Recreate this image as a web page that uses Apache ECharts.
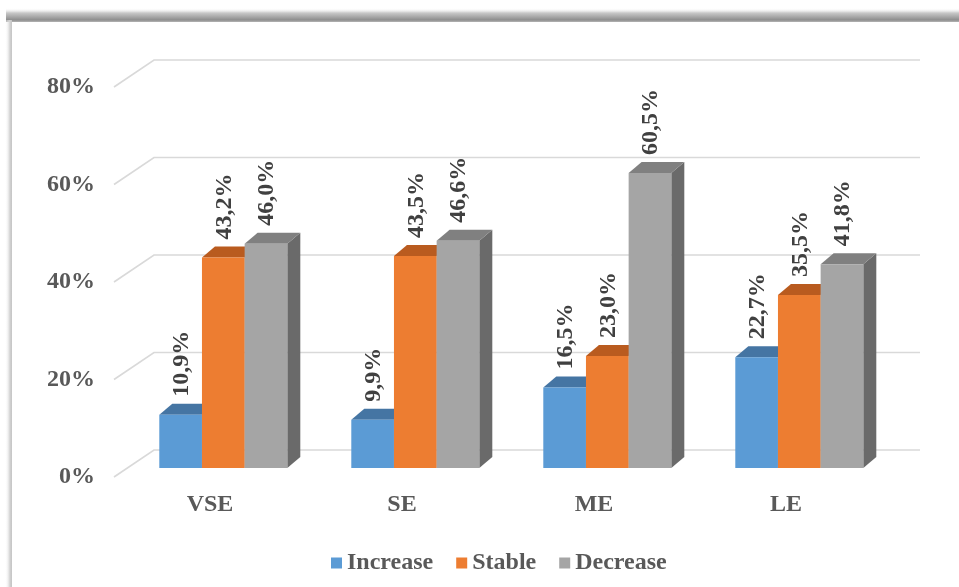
<!DOCTYPE html>
<html>
<head>
<meta charset="utf-8">
<style>
  html, body { margin: 0; padding: 0; background: #ffffff; }
  #chart { width: 959px; height: 587px; }
</style>
<script src="https://cdn.jsdelivr.net/npm/echarts@6/dist/echarts.min.js"></script>
</head>
<body>
<div id="chart"></div>
<script>
// Share of enterprises by size class and trend
const categories = ['VSE', 'SE', 'ME', 'LE'];
const increase = [10.9, 9.9, 16.5, 22.7];
const stable = [43.2, 43.5, 23.0, 35.5];
const decrease = [46.0, 46.6, 60.5, 41.8];
const yTicks = [0, 20, 40, 60, 80];

// Oblique projection used for the pseudo-3D look
const WALL_DX = 40, WALL_DY = -27;   // front edge -> back wall
const BAR_OX = 13.3, BAR_OY = -9;    // front edge -> bar front faces
const BAR_DX = 13, BAR_DY = -11;     // bar depth
const FONT_FAMILY = '"Liberation Serif", "Times New Roman", serif';
const FONT_SIZE = 24;
const FONT = 'bold ' + FONT_SIZE + 'px ' + FONT_FAMILY;

const palette = [
  { front: '#5B9BD5', top: '#4575A3', side: '#3F6C97' },
  { front: '#ED7D31', top: '#B95B1F', side: '#A8531C' },
  { front: '#A5A5A5', top: '#808080', side: '#6A6A6A' }
];

function fmt(v) {
  return v.toFixed(1).replace('.', ',') + '%';
}

function barRenderer(slot) {
  const c = palette[slot];
  return function (params, api) {
    const cat = api.value(0);
    const v = api.value(1);
    const band = api.size([1, 0])[0];
    const w = band * 2 / 9;
    const p = api.coord([cat, v]);
    const base = api.coord([cat, 0]);
    const x0 = p[0] - 1.5 * w + slot * w + BAR_OX;
    const yt = p[1] + BAR_OY;
    const yb = base[1] + BAR_OY;
    const x1 = x0 + w;
    return {
      type: 'group',
      children: [
        {
          type: 'polygon',
          shape: { points: [[x1, yt], [x1 + BAR_DX, yt + BAR_DY], [x1 + BAR_DX, yb + BAR_DY], [x1, yb]] },
          style: { fill: c.side }
        },
        {
          type: 'polygon',
          shape: { points: [[x0, yt], [x1, yt], [x1 + BAR_DX, yt + BAR_DY], [x0 + BAR_DX, yt + BAR_DY]] },
          style: { fill: c.top }
        },
        {
          type: 'rect',
          shape: { x: x0, y: yt, width: w, height: yb - yt },
          style: { fill: c.front }
        },
        {
          type: 'text',
          x: x0 + w / 2 + 1,
          y: yt + BAR_DY - 7,
          rotation: Math.PI / 2,
          style: {
            text: fmt(v),
            font: FONT,
            fill: '#404040',
            align: 'left',
            verticalAlign: 'middle'
          }
        }
      ]
    };
  };
}

function gridRenderer(params, api) {
  const v = api.value(1);
  const cs = params.coordSys;
  const y = api.coord([0, v])[1];
  const xl = cs.x;
  const xr = cs.x + cs.width + WALL_DX - 2;
  return {
    type: 'polyline',
    shape: { points: [[xl, y], [xl + WALL_DX, y + WALL_DY], [xr, y + WALL_DY]] },
    style: { stroke: '#D9D9D9', lineWidth: 1.6, fill: null }
  };
}

function seriesData(values) {
  return values.map((v, i) => [i, v]);
}

const chart = echarts.init(document.getElementById('chart'), null, { renderer: 'canvas' });

const labelText = {
  fontFamily: FONT_FAMILY,
  fontWeight: 'bold',
  fontSize: FONT_SIZE,
  color: '#595959'
};

chart.setOption({
  backgroundColor: '#ffffff',
  animation: false,
  graphic: [
    {
      type: 'rect',
      shape: { x: 6, y: 8, width: 953, height: 14 },
      style: {
        fill: new echarts.graphic.LinearGradient(0, 0, 0, 1, [
          { offset: 0, color: 'rgba(255,255,255,0)' },
          { offset: 0.35, color: '#c8c8c8' },
          { offset: 0.85, color: '#8e8e8e' },
          { offset: 1, color: '#b4b4b4' }
        ])
      },
      z: 0
    },
    {
      type: 'rect',
      shape: { x: 5, y: 20, width: 7, height: 567 },
      style: {
        fill: new echarts.graphic.LinearGradient(0, 0, 1, 0, [
          { offset: 0, color: 'rgba(255,255,255,0)' },
          { offset: 0.7, color: '#d2d2d2' },
          { offset: 1, color: '#c4c4c4' }
        ])
      },
      z: 0
    }
  ],
  grid: { left: 114, right: 77, top: 87, bottom: 110 },
  legend: {
    data: ['Increase', 'Stable', 'Decrease'],
    left: 326,
    top: 546,
    icon: 'rect',
    itemWidth: 11,
    itemHeight: 11,
    itemGap: 23,
    textStyle: labelText
  },
  xAxis: {
    type: 'category',
    data: categories,
    axisLine: { show: false },
    axisTick: { show: false },
    splitLine: { show: false },
    axisLabel: Object.assign({ margin: 16 }, labelText)
  },
  yAxis: {
    type: 'value',
    min: 0,
    max: 80,
    interval: 20,
    axisLine: { show: false },
    axisTick: { show: false },
    splitLine: { show: false },
    axisLabel: Object.assign({ margin: 19, formatter: '{value}%' }, labelText)
  },
  series: [
    {
      name: 'gridlines',
      type: 'custom',
      renderItem: gridRenderer,
      data: yTicks.map(t => [0, t]),
      encode: { x: 0, y: 1 },
      silent: true,
      z: 1
    },
    {
      name: 'Increase',
      type: 'custom',
      renderItem: barRenderer(0),
      data: seriesData(increase),
      encode: { x: 0, y: 1 },
      itemStyle: { color: palette[0].front },
      z: 2
    },
    {
      name: 'Stable',
      type: 'custom',
      renderItem: barRenderer(1),
      data: seriesData(stable),
      encode: { x: 0, y: 1 },
      itemStyle: { color: palette[1].front },
      z: 2
    },
    {
      name: 'Decrease',
      type: 'custom',
      renderItem: barRenderer(2),
      data: seriesData(decrease),
      encode: { x: 0, y: 1 },
      itemStyle: { color: palette[2].front },
      z: 2
    }
  ]
});
</script>
</body>
</html>
